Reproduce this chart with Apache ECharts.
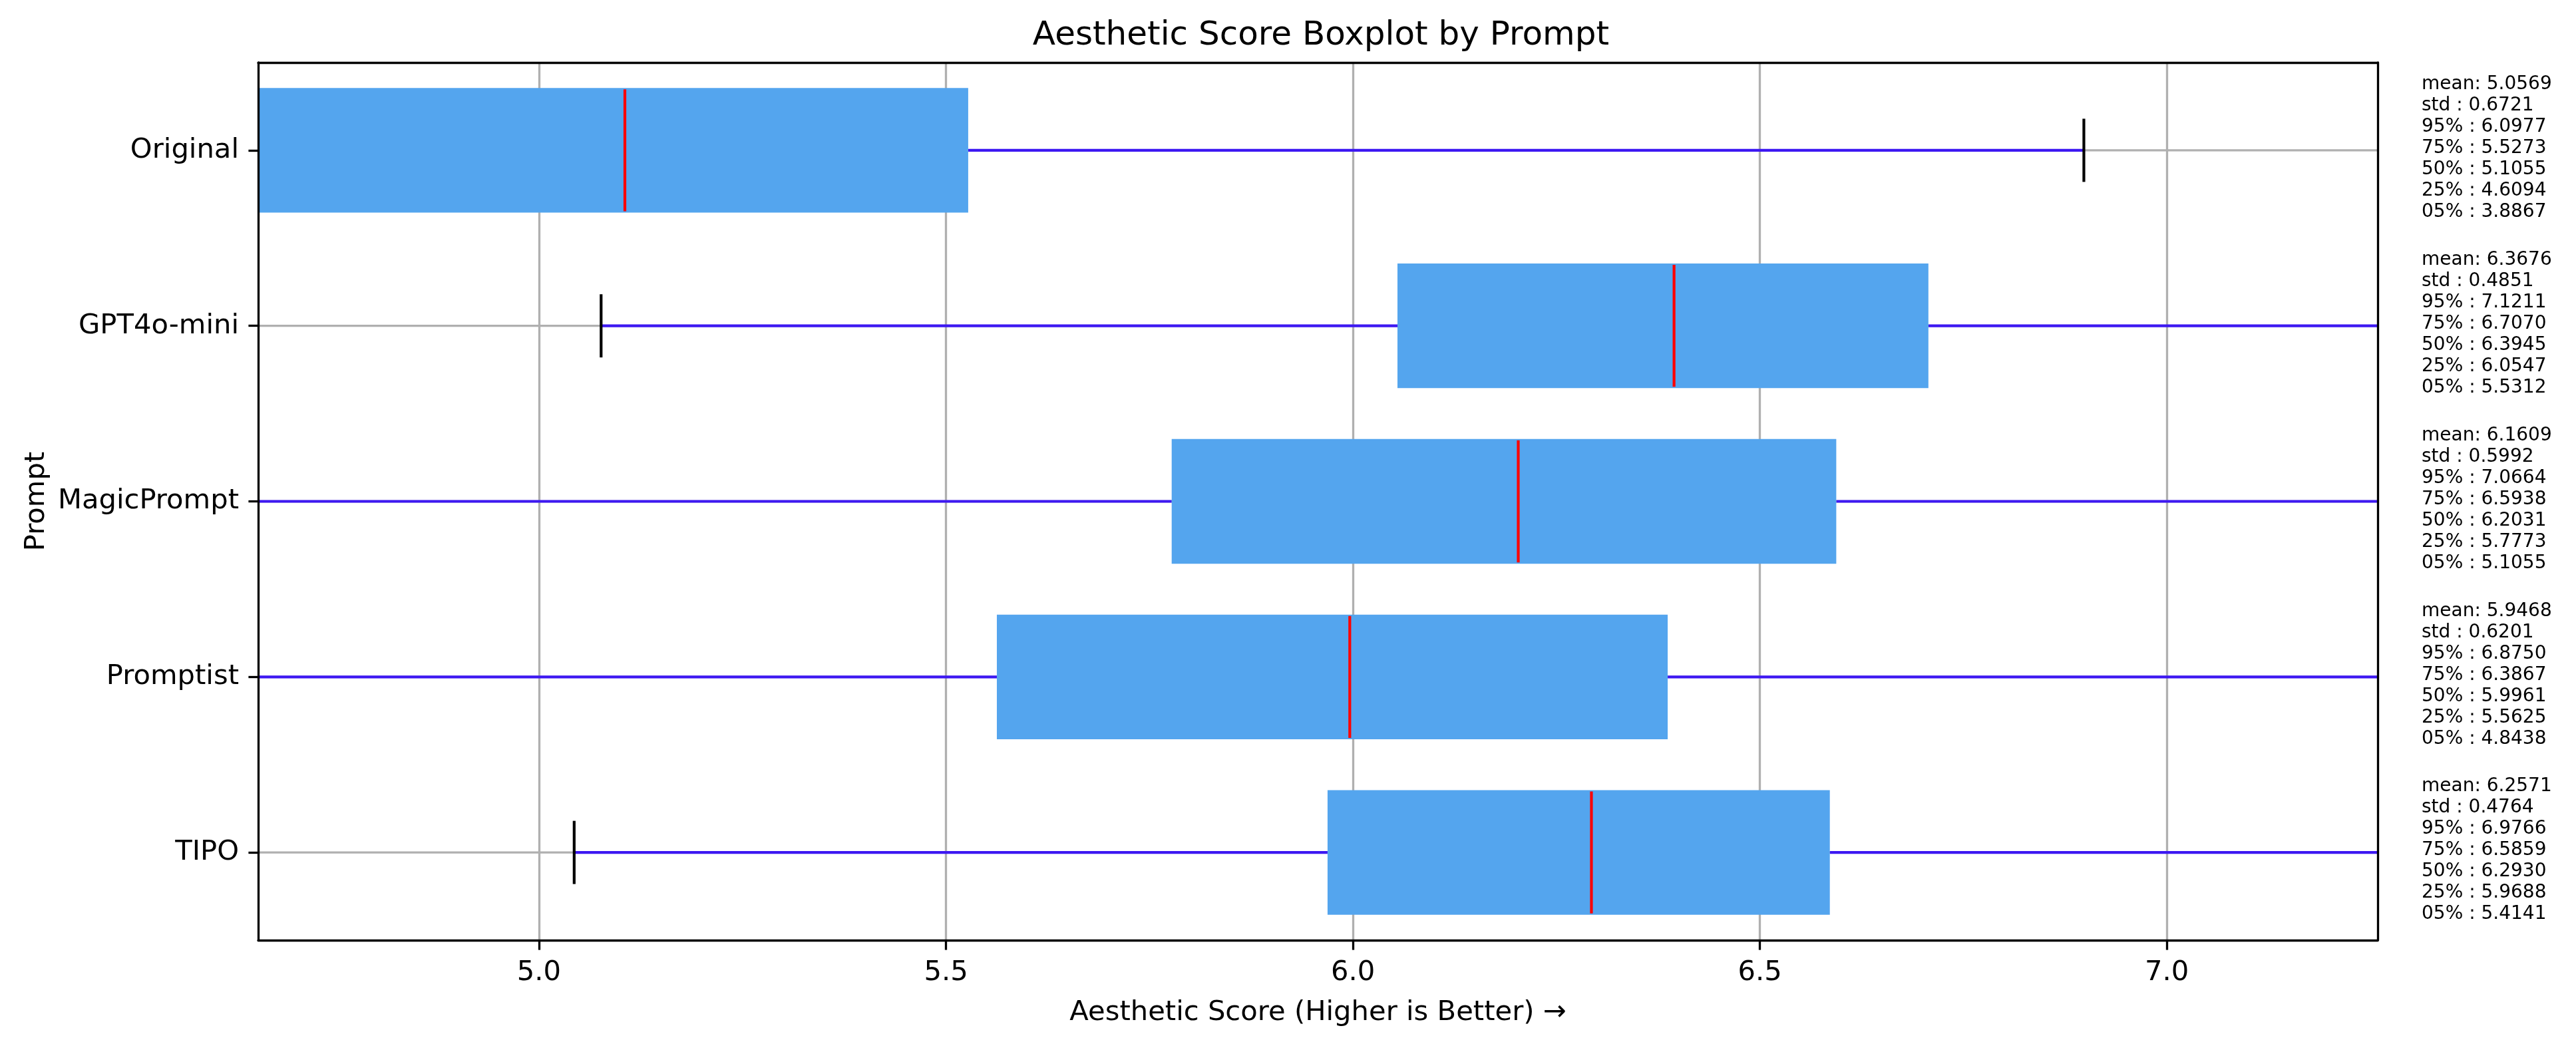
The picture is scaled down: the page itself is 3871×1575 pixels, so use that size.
<!DOCTYPE html>
<html>
<head>
<meta charset="utf-8">
<script src="https://cdn.jsdelivr.net/npm/echarts@6/dist/echarts.min.js"></script>
<style>
  html, body { margin: 0; padding: 0; background: #ffffff; }
  #chart { width: 3871px; height: 1575px; }
</style>
</head>
<body>
<div id="chart"></div>
<script>
// ---- data ----
var categories = ['Original', 'GPT4o-mini', 'MagicPrompt', 'Promptist', 'TIPO'];
var q1Values     = [4.6094, 6.0547, 5.7773, 5.5625, 5.9688];
var medianValues = [5.1055, 6.3945, 6.2031, 5.9961, 6.2930];
var q3Values     = [5.5273, 6.7070, 6.5938, 6.3867, 6.5859];
var whiskerLow   = [3.2326, 5.0763, 4.5525, 4.3262, 5.0432];
var whiskerHigh  = [6.8980, 7.6855, 7.8186, 7.6230, 7.5116];
var meanValues = ['5.0569', '6.3676', '6.1609', '5.9468', '6.2571'];
var stdValues  = ['0.6721', '0.4851', '0.5992', '0.6201', '0.4764'];
var p95Values  = ['6.0977', '7.1211', '7.0664', '6.8750', '6.9766'];
var p75Values  = ['5.5273', '6.7070', '6.5938', '6.3867', '6.5859'];
var p50Values  = ['5.1055', '6.3945', '6.2031', '5.9961', '6.2930'];
var p25Values  = ['4.6094', '6.0547', '5.7773', '5.5625', '5.9688'];
var p05Values  = ['3.8867', '5.5312', '5.1055', '4.8438', '5.4141'];
var xTicks = [5.0, 5.5, 6.0, 6.5, 7.0];
var xMin = 4.655, xMax = 7.259;

var boxData = categories.map(function (c, i) {
  return [i, q1Values[i], medianValues[i], q3Values[i], whiskerLow[i], whiskerHigh[i]];
});
var statData = categories.map(function (c, i) {
  return {
    value: [xMax, i],
    text: 'mean: ' + meanValues[i] + '\nstd : ' + stdValues[i] +
          '\n95% : ' + p95Values[i] + '\n75% : ' + p75Values[i] +
          '\n50% : ' + p50Values[i] + '\n25% : ' + p25Values[i] +
          '\n05% : ' + p05Values[i]
  };
});

var FONT = 'DejaVu Sans';
var chart = echarts.init(document.getElementById('chart'), null, { renderer: 'canvas' });

function renderBox(params, api) {
  var idx = api.value(0);
  var cs = params.coordSys;
  var band = api.size([0, 1])[1];
  var yc = api.coord([xMin, idx])[1];
  var xq1 = api.coord([api.value(1), idx])[0];
  var xmed = api.coord([api.value(2), idx])[0];
  var xq3 = api.coord([api.value(3), idx])[0];
  var xlo = api.coord([api.value(4), idx])[0];
  var xhi = api.coord([api.value(5), idx])[0];
  var boxH = band * 0.71;
  var capH = band * 0.36;
  var wStyle = { stroke: '#3d18f2', lineWidth: 4.2 };
  var capStyle = { stroke: '#000000', lineWidth: 4.2 };
  return {
    type: 'group',
    children: [
      { type: 'line', shape: { x1: cs.x, y1: yc, x2: cs.x + cs.width, y2: yc },
        style: { stroke: '#b0b0b0', lineWidth: 3.3 } },
      { type: 'line', shape: { x1: xlo, y1: yc, x2: xq1, y2: yc }, style: wStyle },
      { type: 'line', shape: { x1: xq3, y1: yc, x2: xhi, y2: yc }, style: wStyle },
      { type: 'rect', shape: { x: xq1, y: yc - boxH / 2, width: xq3 - xq1, height: boxH },
        style: { fill: '#54a5ee', stroke: null } },
      { type: 'line', shape: { x1: xmed, y1: yc - boxH / 2 + 2, x2: xmed, y2: yc + boxH / 2 - 2 },
        style: { stroke: '#ff0000', lineWidth: 4.2 } },
      { type: 'line', shape: { x1: xlo, y1: yc - capH / 2, x2: xlo, y2: yc + capH / 2 }, style: capStyle },
      { type: 'line', shape: { x1: xhi, y1: yc - capH / 2, x2: xhi, y2: yc + capH / 2 }, style: capStyle }
    ]
  };
}

function renderStats(params, api) {
  var cs = params.coordSys;
  var idx = api.value(1);
  var yc = api.coord([xMax, idx])[1];
  return {
    type: 'text',
    x: cs.x + cs.width + 66,
    y: yc - 3,
    style: {
      text: statData[params.dataIndex].text,
      fontSize: 28,
      lineHeight: 32,
      fontFamily: FONT,
      fill: '#000000',
      align: 'left',
      verticalAlign: 'middle'
    }
  };
}

var option = {
  animation: false,
  backgroundColor: '#ffffff',
  textStyle: { fontFamily: FONT },
  title: {
    text: 'Aesthetic Score Boxplot by Prompt',
    left: 1980,
    textAlign: 'center',
    top: 24,
    textStyle: { fontSize: 50, fontWeight: 'normal', color: '#000000', fontFamily: FONT }
  },
  grid: { left: 388, right: 298, top: 94, bottom: 162, containLabel: false, show: false },
  xAxis: [
    {
      type: 'value', min: xMin, max: xMax, position: 'bottom',
      name: 'Aesthetic Score (Higher is Better) \u2192',
      nameLocation: 'middle', nameGap: 88,
      nameTextStyle: { fontSize: 41.7, color: '#000000', fontFamily: FONT },
      axisLine: { show: true, onZero: false, lineStyle: { color: '#000000', width: 3.3 } },
      axisTick: { show: true, length: 14.6, customValues: xTicks, lineStyle: { color: '#000000', width: 3.3 } },
      axisLabel: { show: true, customValues: xTicks, margin: 28, fontSize: 41.7, color: '#000000',
        formatter: function (v) { return v.toFixed(1); } },
      splitLine: { show: true, lineStyle: { color: '#b0b0b0', width: 3.3 } }
    },
    {
      type: 'value', min: xMin, max: xMax, position: 'top', z: 10,
      axisLine: { show: true, onZero: false, lineStyle: { color: '#000000', width: 3.3 } },
      axisTick: { show: false }, axisLabel: { show: false }, splitLine: { show: false }
    }
  ],
  yAxis: [
    {
      type: 'category', data: categories, inverse: true, position: 'left', z: 10,
      name: 'Prompt', nameLocation: 'middle', nameGap: 312, nameRotate: 90,
      nameTextStyle: { fontSize: 41.7, color: '#000000', fontFamily: FONT },
      axisLine: { show: true, onZero: false, lineStyle: { color: '#000000', width: 3.3 } },
      axisTick: { show: true, alignWithLabel: true, length: 14.6, lineStyle: { color: '#000000', width: 3.3 } },
      axisLabel: { show: true, margin: 29, fontSize: 41.7, color: '#000000' },
      splitLine: { show: false }
    },
    {
      type: 'category', data: categories, inverse: true, position: 'right', z: 10,
      axisLine: { show: true, onZero: false, lineStyle: { color: '#000000', width: 3.3 } },
      axisTick: { show: false }, axisLabel: { show: false }, splitLine: { show: false }
    }
  ],
  series: [
    {
      type: 'custom', name: 'box', xAxisIndex: 0, yAxisIndex: 0,
      clip: true, renderItem: renderBox, data: boxData,
      encode: { x: [1, 2, 3, 4, 5], y: 0 }
    },
    {
      type: 'custom', name: 'stats', xAxisIndex: 0, yAxisIndex: 0,
      clip: false, renderItem: renderStats,
      data: statData.map(function (d) { return d.value; }),
      encode: { x: 0, y: 1 }
    }
  ]
};
chart.setOption(option);
</script>
</body>
</html>
